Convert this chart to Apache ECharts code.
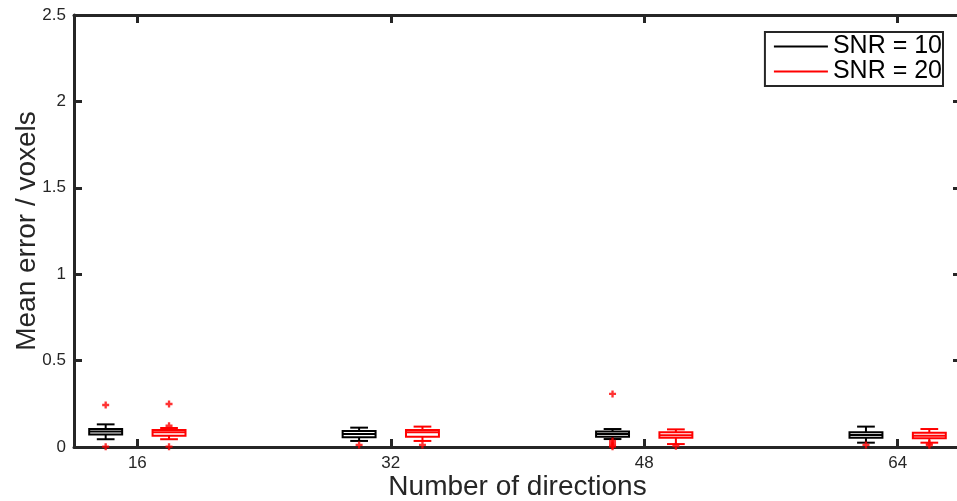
<!DOCTYPE html>
<html>
<head>
<meta charset="utf-8">
<script src="https://cdn.jsdelivr.net/npm/echarts@6/dist/echarts.min.js"></script>
<style>html,body{margin:0;padding:0;background:#fff}#c{width:957px;height:501px}</style>
</head>
<body>
<div id="c"></div>
<script>
// Categories (number of directions)
var categories = [16, 32, 48, 64];
var yTicks = [0, 0.5, 1, 1.5, 2, 2.5];
// Box stats per category: [lowerWhisker, q1, median, q3, upperWhisker]
var snr10Stats = [
  [0.045, 0.073, 0.090, 0.104, 0.131],
  [0.035, 0.056, 0.075, 0.093, 0.112],
  [0.046, 0.060, 0.075, 0.089, 0.104],
  [0.025, 0.054, 0.070, 0.085, 0.118]
];
var snr20Stats = [
  [0.045, 0.065, 0.085, 0.098, 0.110],
  [0.035, 0.060, 0.085, 0.098, 0.118],
  [0.017, 0.054, 0.068, 0.085, 0.102],
  [0.025, 0.050, 0.065, 0.083, 0.104]
];
// Outliers: [category, value]
var snr10Outliers = [[16,0.243],[16,0.002],[32,0.012],[48,0.307],[48,0.035],[48,0.022],[48,0.010],[48,0.002],[64,0.012]];
var snr20Outliers = [[16,0.249],[16,0.123],[16,0.002],[32,0.012],[48,0.005],[64,0.020],[64,0.010]];
var seriesNames = ['SNR = 10', 'SNR = 20'];

var OFFSET = 2, HALF = 1.04, CAP = 0.56;
var axisColor = '#262626';
var font = 'Liberation Sans, Arial, Helvetica, sans-serif';

function boxData(stats, off) {
  return stats.map(function (s, i) { return [categories[i] + off].concat(s); });
}
function outlierData(arr, off) {
  return arr.map(function (p) { return [p[0] + off, p[1]]; });
}
function makeRender(color) {
  return function (params, api) {
    var x = api.value(0);
    var lo = api.value(1), q1 = api.value(2), med = api.value(3), q3 = api.value(4), hi = api.value(5);
    var tl = api.coord([x - HALF, q3]), br = api.coord([x + HALF, q1]);
    var mL = api.coord([x - HALF, med]), mR = api.coord([x + HALF, med]);
    var top = api.coord([x, hi]), bot = api.coord([x, lo]);
    var cq3 = api.coord([x, q3]), cq1 = api.coord([x, q1]);
    var capL = api.coord([x - CAP, 0])[0], capR = api.coord([x + CAP, 0])[0];
    var st = { stroke: color, lineWidth: 2, fill: null };
    return {
      type: 'group',
      children: [
        { type: 'line', shape: { x1: top[0], y1: top[1], x2: cq3[0], y2: cq3[1] }, style: st },
        { type: 'line', shape: { x1: bot[0], y1: bot[1], x2: cq1[0], y2: cq1[1] }, style: st },
        { type: 'line', shape: { x1: capL, y1: top[1], x2: capR, y2: top[1] }, style: st },
        { type: 'line', shape: { x1: capL, y1: bot[1], x2: capR, y2: bot[1] }, style: st },
        { type: 'rect', shape: { x: tl[0], y: tl[1], width: br[0] - tl[0], height: br[1] - tl[1] }, style: { stroke: color, lineWidth: 2, fill: '#fff' } },
        { type: 'line', shape: { x1: mL[0], y1: mL[1], x2: mR[0], y2: mR[1] }, style: st }
      ]
    };
  };
}
var plus = 'path://M2,0H4V2H6V4H4V6H2V4H0V2H2Z';

var chart = echarts.init(document.getElementById('c'), null, { renderer: 'canvas' });
chart.setOption({
  animation: false,
  backgroundColor: '#fff',
  textStyle: { fontFamily: font },
  grid: { left: 74, right: -4, top: 15, bottom: 54, outerBoundsMode: 'none', containLabel: false },
  legend: {
    right: 14, top: 32, orient: 'vertical',
    data: [{ name: seriesNames[0], icon: 'rect' }, { name: seriesNames[1], icon: 'rect' }],
    itemWidth: 54, itemHeight: 2, itemGap: 0,
    padding: [2, 1, 2, 9],
    borderColor: axisColor, borderWidth: 2,
    backgroundColor: '#fff',
    textStyle: { fontSize: 25, color: '#000', fontFamily: font, lineHeight: 25 }
  },
  xAxis: [{
    type: 'value', min: 12, max: 68,
    name: 'Number of directions', nameLocation: 'middle', nameGap: 26, nameMoveOverlap: false,
    nameTextStyle: { fontSize: 28, color: axisColor, fontFamily: font },
    axisLine: { show: true, onZero: false, lineStyle: { color: axisColor, width: 3 } },
    axisTick: { show: true, inside: true, length: 8, customValues: categories, lineStyle: { color: axisColor, width: 3 } },
    axisLabel: { customValues: categories, fontSize: 17, color: axisColor, margin: 8, fontFamily: font },
    splitLine: { show: false }
  }, {
    type: 'value', min: 12, max: 68, position: 'top',
    axisLine: { show: true, onZero: false, lineStyle: { color: axisColor, width: 3 } },
    axisTick: { show: true, inside: true, length: 8, customValues: categories, lineStyle: { color: axisColor, width: 3 } },
    axisLabel: { show: false }, splitLine: { show: false }
  }],
  yAxis: [{
    type: 'value', min: 0, max: 2.5, interval: 0.5,
    name: 'Mean error / voxels', nameLocation: 'middle', nameGap: 33, nameMoveOverlap: false,
    nameTextStyle: { fontSize: 28, color: axisColor, fontFamily: font },
    axisLine: { show: true, onZero: false, lineStyle: { color: axisColor, width: 3 } },
    axisTick: { show: true, inside: true, length: 8, lineStyle: { color: axisColor, width: 3 } },
    axisLabel: { fontSize: 17, color: axisColor, margin: 8, fontFamily: font,
      customValues: yTicks },
    splitLine: { show: false }
  }, {
    type: 'value', min: 0, max: 2.5, interval: 0.5, position: 'right',
    axisLine: { show: true, onZero: false, lineStyle: { color: axisColor, width: 3 } },
    axisTick: { show: true, inside: true, length: 8, lineStyle: { color: axisColor, width: 3 } },
    axisLabel: { show: false }, splitLine: { show: false }
  }],
  series: [
    { name: seriesNames[0], type: 'custom', itemStyle: { color: '#000' },
      renderItem: makeRender('#000'), data: boxData(snr10Stats, -OFFSET), encode: { x: 0, y: [1, 2, 3, 4, 5] }, z: 3 },
    { name: seriesNames[1], type: 'custom', itemStyle: { color: '#ff0000' },
      renderItem: makeRender('#ff0000'), data: boxData(snr20Stats, OFFSET), encode: { x: 0, y: [1, 2, 3, 4, 5] }, z: 3 },
    { name: 'out10', type: 'scatter', symbol: plus, symbolSize: 7, itemStyle: { color: '#ff0000' },
      data: outlierData(snr10Outliers, -OFFSET), z: 4 },
    { name: 'out20', type: 'scatter', symbol: plus, symbolSize: 7, itemStyle: { color: '#ff0000' },
      data: outlierData(snr20Outliers, OFFSET), z: 4 }
  ]
});
</script>
</body>
</html>
